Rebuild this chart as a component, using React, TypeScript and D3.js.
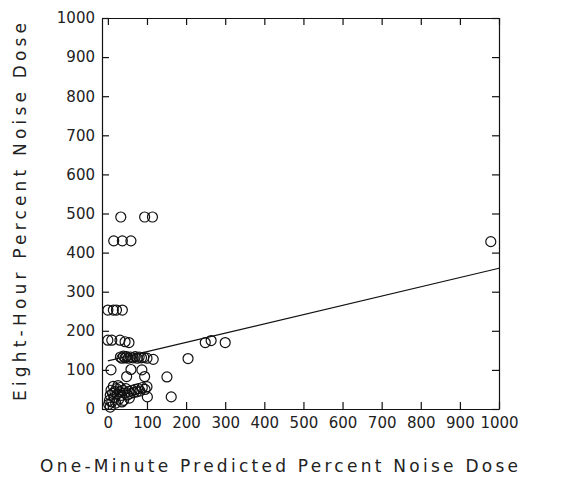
import { useRef, useEffect } from 'react';
import * as d3 from 'd3';

// ---------------------------------------------------------------------------
// Data
// ---------------------------------------------------------------------------
const pointsX = [
  // ~490 row
  33, 94, 114,
  // ~430 row
  15, 37, 59,
  // ~250 row
  0, 14, 22, 37,
  // ~175 row
  0, 10, 31, 44, 54,
  // ~130 cluster
  32, 36, 40, 44, 48, 52, 58, 64, 70, 75, 80, 86, 92, 100, 116, 205,
  // middle scatter
  8, 59, 87, 48, 94, 151, 100, 162, 101,
  // right side
  249, 264, 300, 979,
  // low cluster
  2, 4, 6, 8, 10, 12, 14, 16, 18, 20, 22, 24, 26, 28, 30, 32, 35, 38, 40, 43,
  46, 50, 54, 58, 62, 66, 70, 74, 78, 82, 88, 95, 36, 55, 6,
];
const pointsY = [
  491, 491, 491,
  430, 430, 430,
  253, 253, 253, 253,
  176, 176, 176, 172, 170,
  133, 130, 135, 131, 134, 130, 133, 131, 134, 130, 133, 131, 132, 130, 127, 129,
  100, 101, 100, 83, 83, 82, 57, 31, 31,
  170, 175, 170, 428,
  12, 22, 35, 48, 18, 40, 58, 30, 45, 15, 52, 38, 60, 25, 44, 55, 35, 48, 22, 40,
  52, 36, 45, 40, 48, 42, 50, 44, 52, 46, 55, 50, 18, 28, 5,
];

// least-squares line end points
const fitX = [0, 1000];
const fitY = [123, 360];

const tickValues = [0, 100, 200, 300, 400, 500, 600, 700, 800, 900, 1000];

const X_TITLE = 'One-Minute Predicted Percent Noise Dose';
const Y_TITLE = 'Eight-Hour Percent Noise Dose';

const INK = '#111';
const FONT = '"DejaVu Sans", sans-serif';

export default function App() {
  const svgRef = useRef<SVGSVGElement>(null);

  useEffect(() => {
    const svg = svgRef.current;
    if (!svg) return;
    const sel = d3.select(svg);
    sel.selectAll('*').remove();

    const width = 563;
    const height = 478;
    const left = 102;
    const right = 499;
    const top = 18;
    const bottom = 409;

    sel.attr('width', width).attr('height', height);
    sel.append('rect').attr('width', width).attr('height', height).attr('fill', '#fff');

    const x = d3.scaleLinear().domain([-15, 1000]).range([left, right]);
    const y = d3.scaleLinear().domain([0, 1000]).range([bottom, top]);
    const fmt = d3.format('d');

    const styleAxis = (g: d3.Selection<SVGGElement, unknown, null, undefined>) => {
      g.select('.domain').attr('stroke', INK).attr('stroke-width', 1.2);
      g.selectAll('.tick line').attr('stroke', INK).attr('stroke-width', 1.2);
      g.selectAll('text')
        .attr('fill', '#222')
        .attr('font-family', FONT)
        .attr('font-size', '15px');
    };

    // bottom axis (ticks inward)
    sel.append('g')
      .attr('transform', `translate(0,${bottom})`)
      .call(d3.axisBottom(x).tickValues(tickValues).tickFormat((d) => fmt(d as number)).tickSizeInner(-7).tickSizeOuter(0).tickPadding(8))
      .call(styleAxis);

    // top axis
    sel.append('g')
      .attr('transform', `translate(0,${top})`)
      .call(d3.axisTop(x).tickValues(tickValues).tickSizeInner(-7).tickSizeOuter(0).tickFormat(() => ''))
      .call(styleAxis);

    // left axis
    sel.append('g')
      .attr('transform', `translate(${left},0)`)
      .call(d3.axisLeft(y).tickValues(tickValues).tickFormat((d) => fmt(d as number)).tickSizeInner(-7).tickSizeOuter(0).tickPadding(7))
      .call(styleAxis);

    // right axis
    sel.append('g')
      .attr('transform', `translate(${right},0)`)
      .call(d3.axisRight(y).tickValues(tickValues).tickSizeInner(-7).tickSizeOuter(0).tickFormat(() => ''))
      .call(styleAxis);

    // regression line
    const fit = fitX.map((v, i) => [v, fitY[i]] as [number, number]);
    sel.append('path')
      .datum(fit)
      .attr('d', d3.line<[number, number]>().x((d) => x(d[0])).y((d) => y(d[1])))
      .attr('fill', 'none')
      .attr('stroke', INK)
      .attr('stroke-width', 1.2);

    // scatter
    const pts = pointsX.map((v, i) => ({ x: v, y: pointsY[i] }));
    sel.append('g')
      .selectAll('circle')
      .data(pts)
      .join('circle')
      .attr('cx', (d) => x(d.x))
      .attr('cy', (d) => y(d.y))
      .attr('r', 5)
      .attr('fill', 'none')
      .attr('stroke', INK)
      .attr('stroke-width', 1.2);

    // axis titles
    sel.append('text')
      .attr('x', 279)
      .attr('y', 472)
      .attr('text-anchor', 'middle')
      .attr('font-family', FONT)
      .attr('font-size', '17px')
      .attr('fill', '#222')
      .attr('textLength', 478)
      .attr('lengthAdjust', 'spacing')
      .text(X_TITLE);

    sel.append('text')
      .attr('transform', `translate(26,212) rotate(-90)`)
      .attr('text-anchor', 'middle')
      .attr('font-family', FONT)
      .attr('font-size', '17px')
      .attr('fill', '#222')
      .attr('textLength', 378)
      .attr('lengthAdjust', 'spacing')
      .text(Y_TITLE);
  }, []);

  return (
    <div style={{ position: 'absolute', left: 0, top: 0 }}>
      <svg ref={svgRef} style={{ display: 'block' }} />
    </div>
  );
}
